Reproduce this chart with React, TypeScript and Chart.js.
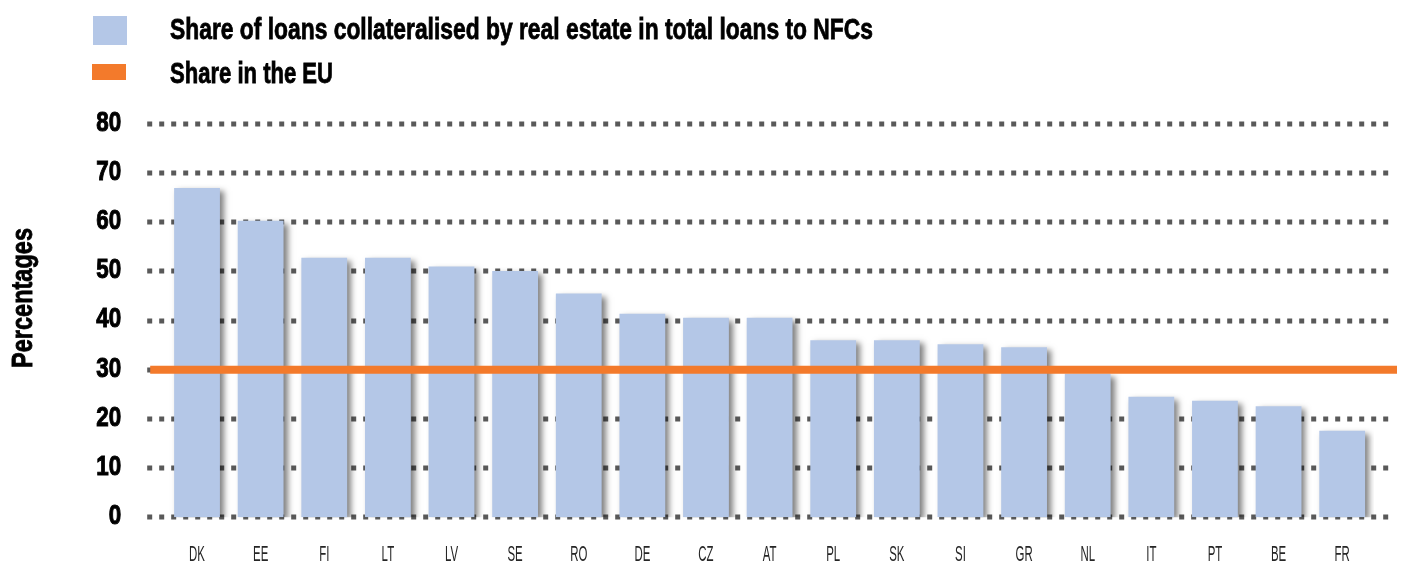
import React, { useEffect, useRef } from "react";
import { Chart, registerables } from "chart.js";

Chart.register(...registerables);

const categories = ["DK", "EE", "FI", "LT", "LV", "SE", "RO", "DE", "CZ", "AT", "PL", "SK", "SI", "GR", "NL", "IT", "PT", "BE", "FR"];
const shareValues = [67.0, 60.3, 52.8, 52.8, 51.0, 50.1, 45.5, 41.4, 40.6, 40.6, 36.0, 36.0, 35.2, 34.6, 29.2, 24.5, 23.7, 22.6, 17.6];
const euShare = [30];
const yMin = 0;
const yMax = 80;
const yStep = 10;
const legendLabels = ["Share of loans collateralised by real estate in total loans to NFCs", "Share in the EU"];
const axisTitle = "Percentages";

const FAMILY = "'Liberation Sans Narrow', 'Liberation Sans', Arial, sans-serif";
const BAR_COLOR = "#b4c7e7";
const EU_COLOR = "#f37a2b";
const GRID_COLOR = "#595959";

function fitScale(text: string, font: string, target: number): number {
  const c = document.createElement("canvas").getContext("2d");
  if (!c) return 1;
  c.font = font;
  const w = c.measureText(text).width;
  return w > 0 ? target / w : 1;
}

const gridPlugin = {
  id: "dottedGrid",
  beforeDatasetsDraw(chart: any) {
    const { ctx, chartArea, scales } = chart;
    const y = scales.y;
    ctx.save();
    ctx.strokeStyle = GRID_COLOR;
    ctx.lineWidth = 5;
    ctx.setLineDash([5, 7]);
    y.ticks.forEach((t: any) => {
      const py = Math.round(y.getPixelForValue(t.value));
      ctx.beginPath();
      ctx.moveTo(chartArea.left - 18, py);
      ctx.lineTo(chartArea.right + 16, py);
      ctx.stroke();
    });
    ctx.restore();
  },
};

const shadowPlugin = {
  id: "barShadow",
  beforeDatasetDraw(chart: any) {
    const ctx = chart.ctx;
    ctx.save();
    ctx.shadowColor = "rgba(0,0,0,0.5)";
    ctx.shadowBlur = 6;
    ctx.shadowOffsetX = 4;
    ctx.shadowOffsetY = 3;
  },
  afterDatasetDraw(chart: any) {
    chart.ctx.restore();
  },
};

const euLinePlugin = {
  id: "euLine",
  afterDatasetsDraw(chart: any) {
    const { ctx, chartArea, scales } = chart;
    const py = scales.y.getPixelForValue(euShare[0]);
    ctx.save();
    ctx.strokeStyle = EU_COLOR;
    ctx.lineWidth = 8;
    ctx.beginPath();
    ctx.moveTo(chartArea.left - 15, py);
    ctx.lineTo(chartArea.right + 23, py);
    ctx.stroke();
    ctx.restore();
  },
};

// Tick labels in a condensed style (horizontally compressed text)
const condensedTicksPlugin = {
  id: "condensedTicks",
  afterDraw(chart: any) {
    const { ctx, scales } = chart;
    const x = scales.x;
    const y = scales.y;
    ctx.save();
    // y ticks
    ctx.font = `bold 28px ${FAMILY}`;
    ctx.fillStyle = "#000";
    ctx.strokeStyle = "#000";
    ctx.lineWidth = 1;
    ctx.textAlign = "right";
    ctx.textBaseline = "middle";
    y.ticks.forEach((t: any) => {
      const py = y.getPixelForValue(t.value);
      ctx.save();
      ctx.translate(y.right - 44, py - 1);
      ctx.scale(0.8, 1);
      ctx.fillText(String(t.value), 0, 0);
      ctx.strokeText(String(t.value), 0, 0);
      ctx.restore();
    });
    // x ticks
    ctx.font = `22px ${FAMILY}`;
    ctx.fillStyle = "#262626";
    ctx.textAlign = "center";
    ctx.textBaseline = "middle";
    categories.forEach((c, i) => {
      const px = x.getPixelForTick(i);
      ctx.save();
      ctx.translate(px, x.top + 38);
      ctx.scale(0.52, 1);
      ctx.fillText(c, 0, 0);
      ctx.restore();
    });
    ctx.restore();
  },
};

export default function App() {
  const canvasRef = useRef<HTMLCanvasElement | null>(null);

  useEffect(() => {
    document.body.style.margin = "0";
    const canvas = canvasRef.current;
    if (!canvas) return;
    const chart = new Chart(canvas, {
      type: "bar",
      data: {
        labels: categories,
        datasets: [
          {
            label: legendLabels[0],
            data: shareValues,
            backgroundColor: BAR_COLOR,
            borderWidth: 0,
            barPercentage: 0.72,
            categoryPercentage: 1,
          },
        ],
      },
      options: {
        animation: false,
        responsive: false,
        maintainAspectRatio: false,
        layout: { padding: { left: 0, top: 124, right: 28, bottom: 0 } },
        plugins: {
          legend: { display: false },
          tooltip: { enabled: false },
          title: { display: false },
        },
        scales: {
          x: {
            grid: { display: false, drawTicks: false },
            border: { display: false },
            ticks: { display: false, autoSkip: false, maxRotation: 0 },
            afterFit(scale: any) {
              scale.height = 49.7;
              scale.paddingLeft = 0;
              scale.paddingRight = 0;
              scale.paddingTop = 0;
              scale.paddingBottom = 0;
            },
          },
          y: {
            min: yMin,
            max: yMax,
            grid: { display: false, drawTicks: false },
            border: { display: false },
            ticks: { display: false, stepSize: yStep },
            afterFit(scale: any) {
              scale.width = 165.2;
              scale.paddingTop = 0;
              scale.paddingBottom = 0;
              scale.paddingLeft = 0;
              scale.paddingRight = 0;
            },
          },
        },
      },
      plugins: [gridPlugin, shadowPlugin, euLinePlugin, condensedTicksPlugin],
    });
    return () => chart.destroy();
  }, []);

  const legendFont = `bold 30px ${FAMILY}`;
  const s1 = fitScale(legendLabels[0], legendFont, 703);
  const s2 = fitScale(legendLabels[1], legendFont, 163);
  const sTitle = fitScale(axisTitle, legendFont, 140);

  const textStyle: React.CSSProperties = {
    position: "absolute",
    left: 170,
    font: legendFont,
    lineHeight: "30px",
    whiteSpace: "nowrap",
    color: "#000",
    transformOrigin: "left top",
    WebkitTextStroke: "0.8px #000",
  };

  return (
    <div style={{ position: "relative", width: 1402, height: 567, background: "#fff", overflow: "hidden" }}>
      <canvas ref={canvasRef} width={1402} height={567} style={{ position: "absolute", left: 0, top: 0, width: 1402, height: 567 }} />
      <div style={{ position: "absolute", left: 93, top: 16, width: 34, height: 29, background: BAR_COLOR }} />
      <div style={{ position: "absolute", left: 92, top: 64, width: 34, height: 16, background: EU_COLOR }} />
      <span style={{ ...textStyle, top: 39.3 - 25.4, transform: `scaleX(${s1})` }}>{legendLabels[0]}</span>
      <span style={{ ...textStyle, top: 83 - 25.4, transform: `scaleX(${s2})` }}>{legendLabels[1]}</span>
      <div
        style={{
          position: "absolute",
          left: 22,
          top: 298,
          font: legendFont,
          lineHeight: "30px",
          whiteSpace: "nowrap",
          color: "#000",
          WebkitTextStroke: "0.8px #000",
          transform: `translate(-50%, -50%) rotate(-90deg) scaleX(${sTitle})`,
          transformOrigin: "center center",
          width: "max-content",
        }}
      >
        {axisTitle}
      </div>
    </div>
  );
}
